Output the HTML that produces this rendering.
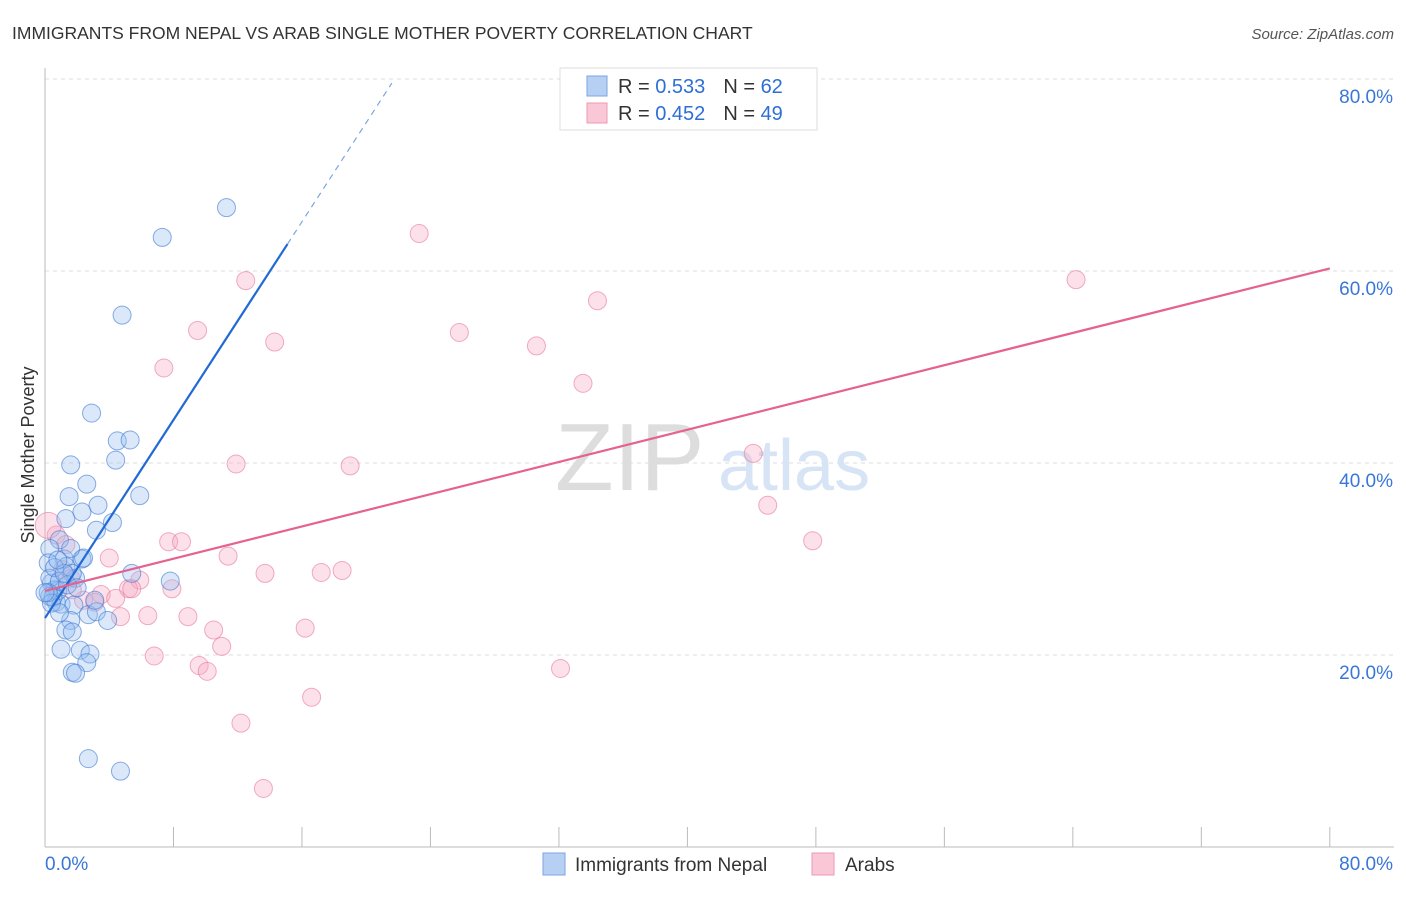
<!DOCTYPE html>
<html><head><meta charset="utf-8"><style>
body{margin:0;background:#fff;font-family:"Liberation Sans",sans-serif;}
svg text{font-family:"Liberation Sans",sans-serif;}
</style></head><body>
<svg width="1406" height="892" viewBox="0 0 1406 892">
<text x="12" y="39" font-size="17.5" fill="#333">IMMIGRANTS FROM NEPAL VS ARAB SINGLE MOTHER POVERTY CORRELATION CHART</text>
<text x="1394" y="39" font-size="15" fill="#555" text-anchor="end" font-style="italic">Source: ZipAtlas.com</text>
<g id="grid"></g>
<g id="axes"></g>
<text x="555" y="490" font-size="96" fill="#ddd" font-family="Liberation Serif">ZIP</text>
<text x="718" y="490" font-size="72" fill="#d6e4f5">atlas</text>
<g id="pts"></g>
<g id="lines"></g>
<text transform="translate(34,455) rotate(-90)" font-size="18" fill="#333" text-anchor="middle">Single Mother Poverty</text>
<g>
<rect x="560" y="68" width="257" height="62" fill="#fff" stroke="#ddd"/>
<rect x="587" y="76" width="20" height="20" fill="#b5d0f3" stroke="#7aa6e0"/>
<rect x="587" y="103" width="20" height="20" fill="#f9c7d6" stroke="#ee9ab3"/>
<text x="618" y="93" font-size="20" fill="#333">R = <tspan fill="#2e6fd6">0.533</tspan><tspan dx="18">N = </tspan><tspan fill="#2e6fd6">62</tspan></text>
<text x="618" y="120" font-size="20" fill="#333">R = <tspan fill="#2e6fd6">0.452</tspan><tspan dx="18">N = </tspan><tspan fill="#2e6fd6">49</tspan></text>
</g>
<g>
<rect x="543" y="853" width="22" height="22" fill="#b5d0f3" stroke="#7aa6e0"/>
<text x="575" y="871" font-size="19" fill="#333">Immigrants from Nepal</text>
<rect x="812" y="853" width="22" height="22" fill="#f9c7d6" stroke="#ee9ab3"/>
<text x="845" y="871" font-size="19" fill="#333">Arabs</text>
</g>
</svg>
<script>
const yTicks=[20,40,60,80];
const xTickLabels=["0.0%","80.0%"];
const nepalX=[11.3,7.3,4.8,2.9,4.5,5.3,4.4,1.6,2.6,1.5,3.3,5.9,1.3,2.3,4.2,3.2,0.9,0.3,1.2,2.3,2.4,1.9,1.3,1.7,5.4,7.8,0.4,0.6,0.3,0.7,1.0,1.8,0.8,0.5,2.7,3.2,3.9,1.6,1.3,1.7,1.0,2.2,2.8,2.6,1.7,1.9,2.7,4.7,0.2,0.3,0.6,0.9,1.4,2.0,0.2,0.4,0.9,3.1,1.2,1.6,0.8,0.0];
const nepalY=[66.6,63.5,55.4,45.2,42.3,42.4,40.3,39.8,37.8,36.5,35.6,36.6,34.2,34.9,33.8,33.0,32.0,31.1,30.0,30.0,30.1,28.0,29.2,28.5,28.5,27.7,27.5,26.8,26.1,25.5,25.3,25.2,26.7,26.0,24.2,24.5,23.6,23.6,22.6,22.4,20.6,20.5,20.1,19.2,18.2,18.1,9.2,7.9,29.6,28.0,29.1,27.7,27.3,27.0,26.5,25.4,24.4,25.7,28.5,31.1,29.9,26.5];
const arabX=[23.3,64.2,12.5,34.4,9.5,25.8,14.3,30.6,33.5,7.4,44.1,11.9,19.0,45.0,47.8,7.7,8.5,4.0,11.4,13.7,17.2,18.5,5.9,7.9,5.2,5.4,3.5,4.4,2.4,3.1,6.4,8.9,4.7,10.5,16.2,11.0,6.8,9.6,10.1,32.1,12.2,16.6,13.6,0.7,1.3,1.6,1.1,1.7,0.2];
const arabY=[63.9,59.1,59.0,56.9,53.8,53.6,52.6,52.2,48.3,49.9,41.0,39.9,39.7,35.6,31.9,31.8,31.8,30.1,30.3,28.5,28.6,28.8,27.8,26.9,26.9,26.9,26.3,25.9,25.7,25.5,24.1,24.0,24.0,22.6,22.8,20.9,19.9,18.9,18.3,18.6,12.9,15.6,6.1,32.5,31.5,28.0,28.9,26.8,33.5];
const nepalFit=[23.85,2.58];
const arabFit=[26.67,0.42];
const NS="http://www.w3.org/2000/svg";
const X=v=>45+v*16.06, Y=v=>847-v*9.6;
function mk(t,a,p){const e=document.createElementNS(NS,t);for(const k in a)e.setAttribute(k,a[k]);p.appendChild(e);return e;}
const grid=document.getElementById('grid'),axes=document.getElementById('axes');
for(const t of yTicks){
 const l=mk('line',{x1:45,x2:1394,y1:Y(t),y2:Y(t),stroke:'#ddd','stroke-dasharray':'4,4'},grid);
 
 
 const tx=mk('text',{x:1393,y:Y(t)+24,'font-size':19,fill:'#3a76d8','text-anchor':'end'},axes);
 tx.textContent=t.toFixed(1)+'%';
 
 
}
mk('line',{x1:45,x2:45,y1:68,y2:847,stroke:'#bbb'},axes);
mk('line',{x1:45,x2:1394,y1:847,y2:847,stroke:'#bbb'},axes);
for(let i=0;i<=10;i++){mk('line',{x1:X(i*8),x2:X(i*8),y1:827,y2:847,stroke:'#bbb'},axes);}
const xl0=mk('text',{x:45,y:870,'font-size':19,fill:'#3a76d8'},axes);xl0.textContent=xTickLabels[0];


const xl1=mk('text',{x:1393,y:870,'font-size':19,fill:'#3a76d8','text-anchor':'end'},axes);xl1.textContent=xTickLabels[1];


const pts=document.getElementById('pts');
arabX.forEach((x,i)=>{const c=mk('circle',{cx:X(x),cy:Y(arabY[i]),r:(i==48?13:9),fill:'rgba(246,170,195,0.35)',stroke:'rgba(232,120,155,0.6)','stroke-width':1},pts);
 
 });
nepalX.forEach((x,i)=>{const c=mk('circle',{cx:X(x),cy:Y(nepalY[i]),r:9,fill:'rgba(150,190,240,0.35)',stroke:'rgba(60,120,210,0.6)','stroke-width':1},pts);
 
 });
const lines=document.getElementById('lines');
const bl=mk('line',{x1:X(0),y1:Y(nepalFit[0]),x2:X(15.1),y2:Y(nepalFit[0]+nepalFit[1]*15.1),stroke:'#2169d4','stroke-width':2.2},lines);


const bd=mk('line',{x1:X(15.1),y1:Y(nepalFit[0]+nepalFit[1]*15.1),x2:X(21.6),y2:Y(nepalFit[0]+nepalFit[1]*21.6),stroke:'#7aa6e0','stroke-width':1.2,'stroke-dasharray':'6,5'},lines);


const pl=mk('line',{x1:X(0),y1:Y(arabFit[0]),x2:X(80),y2:Y(arabFit[0]+arabFit[1]*80),stroke:'#e5628f','stroke-width':2.2},lines);


</script>
</body></html>
